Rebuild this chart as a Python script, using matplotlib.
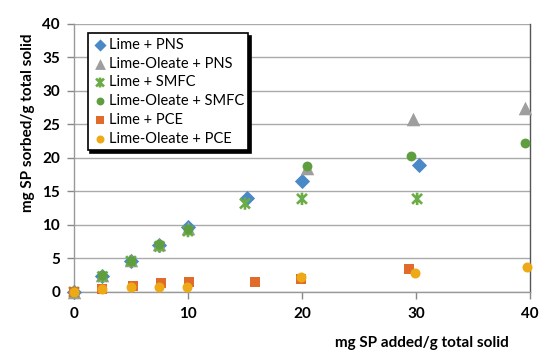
import matplotlib
matplotlib.use("Agg")
import matplotlib.pyplot as plt
from matplotlib.path import Path

plt.rcParams['font.family'] = ['Lato', 'DejaVu Sans']

# Data
lime_pns_x = [0, 2.5, 5, 7.5, 10, 15.2, 20.0, 30.3]
lime_pns_y = [0, 2.4, 4.6, 7.0, 9.7, 14.1, 16.6, 19.0]

oleate_pns_x = [0, 2.5, 5, 7.5, 10, 20.4, 29.7, 39.6]
oleate_pns_y = [0, 2.5, 4.8, 7.2, 9.5, 18.5, 25.8, 27.5]

lime_smfc_x = [0, 2.5, 5, 7.5, 10, 15.0, 20.0, 30.1]
lime_smfc_y = [0, 2.3, 4.6, 6.8, 9.1, 13.2, 13.9, 13.9]

oleate_smfc_x = [0, 2.5, 5, 7.5, 10, 20.4, 29.6, 39.6]
oleate_smfc_y = [0, 2.5, 4.7, 7.1, 9.4, 18.8, 20.3, 22.2]

lime_pce_x = [0, 2.5, 5.2, 7.6, 10.1, 15.9, 19.9, 29.4]
lime_pce_y = [0, 0.5, 0.9, 1.3, 1.45, 1.55, 1.95, 3.4]

oleate_pce_x = [0, 2.5, 5.0, 7.5, 9.9, 19.9, 29.9, 39.7]
oleate_pce_y = [0, 0.5, 0.8, 0.8, 0.7, 2.3, 2.9, 3.8]

labels = ["Lime + PNS", "Lime-Oleate + PNS", "Lime + SMFC",
          "Lime-Oleate + SMFC", "Lime + PCE", "Lime-Oleate + PCE"]

x_ticks = [0, 10, 20, 30, 40]
y_ticks = [0, 5, 10, 15, 20, 25, 30, 35, 40]

star = Path([(-1, -1), (1, 1), (-1, 1), (1, -1), (0, -1.25), (0, 1.25)],
            [Path.MOVETO, Path.LINETO, Path.MOVETO, Path.LINETO, Path.MOVETO, Path.LINETO])

fig = plt.figure(figsize=(5.5, 3.56), dpi=100)
ax = fig.add_axes([0.1345, 0.1798, 0.8291, 0.7528])

ax.scatter(lime_pns_x, lime_pns_y, marker='D', s=60, color='#4A89C8', label=labels[0], zorder=3, linewidths=0)
ax.scatter(oleate_pns_x, oleate_pns_y, marker='^', s=95, color='#9E9E9E', label=labels[1], zorder=3, linewidths=0)
ax.scatter(lime_smfc_x, lime_smfc_y, marker=star, s=80, facecolor='none', edgecolor='#6AAC45', linewidths=1.9, label=labels[2], zorder=3)
ax.scatter(oleate_smfc_x, oleate_smfc_y, marker='o', s=50, color='#5E9E3E', label=labels[3], zorder=3, linewidths=0)
ax.scatter(lime_pce_x, lime_pce_y, marker='s', s=50, color='#E06B2A', label=labels[4], zorder=3, linewidths=0)
ax.scatter(oleate_pce_x, oleate_pce_y, marker='o', s=52, color='#EDAA16', label=labels[5], zorder=3, linewidths=0)

ax.set_xlim(0, 40)
ax.set_ylim(0, 40)
ax.set_xticks(x_ticks)
ax.set_yticks(y_ticks)
ax.set_xticklabels([str(t) for t in x_ticks], fontweight='bold', fontsize=11)
ax.set_yticklabels([str(t) for t in y_ticks], fontweight='bold', fontsize=11)
ax.tick_params(axis='both', direction='out', length=5, color='#888888', width=1)
ax.tick_params(axis='x', pad=6)
ax.tick_params(axis='y', pad=5)
ax.yaxis.grid(True, color='#AAAAAA', linewidth=1)
ax.set_axisbelow(True)
ax.spines['top'].set_visible(False)
for s in ['left', 'bottom']:
    ax.spines[s].set_color('#999999')
ax.spines['right'].set_color('#555555')
for sp in ax.spines.values():
    sp.set_linewidth(1)
for m in ax.collections:
    m.set_clip_on(False)

fig.text(28 / 550, 1 - 123 / 356, "mg SP sorbed/g total solid", fontweight='bold', fontsize=11,
         rotation=90, ha='center', va='center')
fig.text(422 / 550, 1 - 343 / 356, "mg SP added/g total solid", fontweight='bold', fontsize=11,
         ha='center', va='center')

leg = ax.legend(loc='upper left', bbox_to_anchor=(0.03, 0.965), fontsize=10.5, frameon=True,
                fancybox=False, shadow={'color': 'black', 'alpha': 1}, edgecolor='black',
                borderpad=0.3, labelspacing=0.33, handletextpad=0.05, handlelength=1.1,
                borderaxespad=0, markerscale=0.8)
leg.get_frame().set_linewidth(1.2)

fig.savefig("out.png", dpi=100)
